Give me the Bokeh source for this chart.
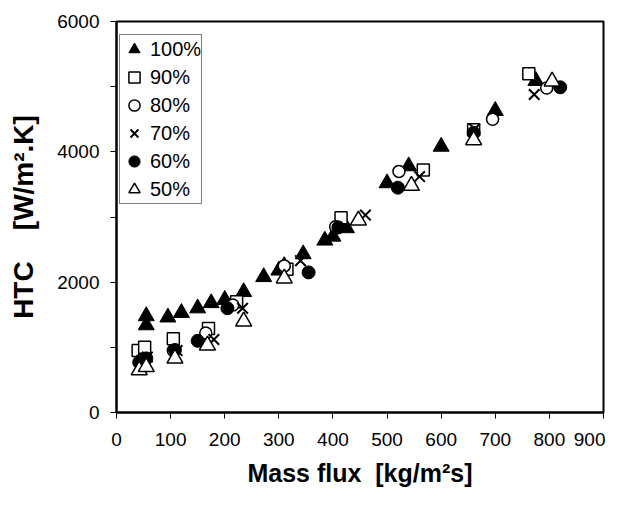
from bokeh.plotting import figure
from bokeh.models import FixedTicker, Legend, LegendItem, Range1d
from bokeh.embed import file_html
from bokeh.resources import INLINE

# ---- data ----
x100 = [55, 55, 95, 120, 150, 175, 200, 235, 272, 300, 310, 345, 385, 400, 410, 425, 500, 540, 600, 700, 775]
y100 = [1480, 1340, 1460, 1530, 1600, 1680, 1730, 1850, 2080, 2180, 2250, 2430, 2640, 2700, 2850, 2830, 3520, 3780, 4080, 4630, 5090]

x90 = [40, 52, 105, 170, 222, 315, 415, 567, 660, 762]
y90 = [950, 1000, 1130, 1290, 1700, 2200, 2990, 3720, 4340, 5200]

x80 = [45, 105, 165, 215, 310, 405, 522, 695, 795]
y80 = [800, 950, 1220, 1650, 2250, 2850, 3700, 4500, 4980]

x70 = [57, 112, 180, 233, 340, 460, 560, 662, 772]
y70 = [850, 950, 1120, 1600, 2330, 3030, 3620, 4350, 4880]

x60 = [42, 55, 108, 150, 205, 355, 410, 520, 660, 820]
y60 = [770, 830, 960, 1100, 1600, 2150, 2840, 3450, 4290, 4990]

x50 = [42, 55, 108, 168, 235, 310, 447, 545, 660, 805]
y50 = [650, 700, 830, 1030, 1400, 2060, 2950, 3480, 4180, 5080]

labels = ["100%", "90%", "80%", "70%", "60%", "50%"]
x_ticks = [0, 100, 200, 300, 400, 500, 600, 700, 800, 900]
y_ticks = [0, 2000, 4000, 6000]
y_minor = [1000, 3000, 5000]

FONT = "Liberation Sans"
NB = "\u00a0"

p = figure(width=605, height=492, output_backend="svg", toolbar_location=None,
           x_range=Range1d(0, 900), y_range=Range1d(0, 6000),
           min_border_left=116, min_border_right=2, min_border_top=21, min_border_bottom=80)

p.xgrid.visible = False
p.ygrid.visible = False
p.outline_line_color = "black"
p.outline_line_width = 2
p.background_fill_color = "white"
p.border_fill_color = "white"

# axes
p.xaxis.ticker = FixedTicker(ticks=x_ticks)
p.yaxis.ticker = FixedTicker(ticks=y_ticks, minor_ticks=y_minor)
for ax in (p.xaxis, p.yaxis):
    ax.axis_line_width = 2
    ax.axis_line_color = "black"
    ax.major_tick_line_color = "black"
    ax.major_tick_line_width = 1
    ax.major_tick_in = 0
    ax.major_tick_out = 6
    ax.minor_tick_in = 0
    ax.minor_tick_out = 6
    ax.minor_tick_line_color = "black"
    ax.major_label_text_font = FONT
    ax.major_label_text_font_size = "19px"
    ax.major_label_text_color = "black"
    ax.axis_label_text_font = FONT
    ax.axis_label_text_font_style = "bold"
    ax.axis_label_text_color = "black"
p.xaxis.minor_tick_line_color = None
p.xaxis.major_label_standoff = 14
p.yaxis.major_label_standoff = 11
p.xaxis.axis_label = "Mass flux" + NB + NB + "[kg/m\u00b2s]"
p.yaxis.axis_label = "HTC" + NB * 4 + "[W/m\u00b2.K]"
p.xaxis.axis_label_text_font_size = "25px"
p.yaxis.axis_label_text_font_size = "28px"
p.xaxis.axis_label_standoff = 10
p.yaxis.axis_label_standoff = 15

# series (draw order as original: 100% first)
r100 = p.scatter(x100, y100, marker="triangle", size=16, fill_color="black", line_color="black")
r90 = p.scatter(x90, y90, marker="square", size=12, fill_color="white", line_color="black", line_width=1.5)
r80 = p.scatter(x80, y80, marker="circle", size=12, fill_color="white", line_color="black", line_width=1.5)
r70 = p.scatter(x70, y70, marker="x", size=15, line_color="black", line_width=2)
r60 = p.scatter(x60, y60, marker="circle", size=13, fill_color="black", line_color="black")
r50 = p.scatter(x50, y50, marker="triangle", size=16, fill_color="white", line_color="black", line_width=1.5)

renderers = [r100, r90, r80, r70, r60, r50]
legend = Legend(items=[LegendItem(label=l, renderers=[r]) for l, r in zip(labels, renderers)],
                location=(3, 208))
legend.label_text_font = FONT
legend.label_text_font_size = "20px"
legend.label_text_color = "black"
legend.label_height = 20
legend.glyph_height = 28
legend.glyph_width = 28
legend.spacing = 0
legend.padding = 0
legend.margin = 0
legend.label_standoff = 2
legend.border_line_color = "black"
legend.border_line_width = 1
legend.background_fill_alpha = 1
p.add_layout(legend)

open("out.html", "w").write(file_html(p, INLINE))
